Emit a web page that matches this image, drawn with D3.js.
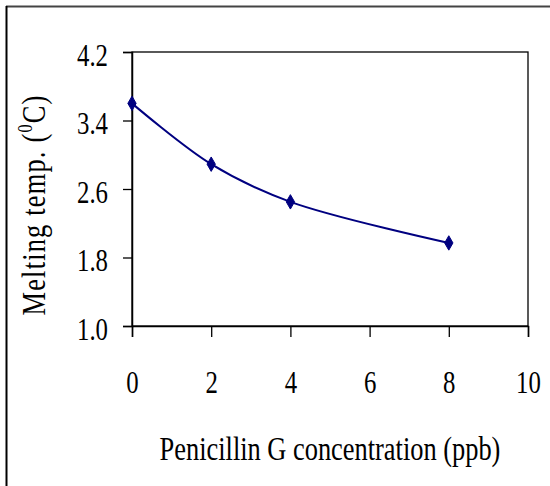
<!DOCTYPE html>
<html>
<head>
<meta charset="utf-8">
<script src="https://cdn.jsdelivr.net/npm/d3@7"></script>
<style>
  body { margin: 0; background: #fff; }
  text { font-family: "Liberation Serif", "Times New Roman", serif; fill: #000; }
</style>
</head>
<body>
<svg id="chart"></svg>
<script>
// data
const concentration = [0, 2, 4, 8];
const meltingTemp = [3.60, 2.89, 2.45, 1.97];
const xTicks = [0, 2, 4, 6, 8, 10];
const yTicks = [1.0, 1.8, 2.6, 3.4, 4.2];

let width = 550;
let height = 486;
let margin = { top: 52, right: 22, bottom: 160, left: 132 };
let squeeze = 0.8; // text in the original is horizontally condensed

let svg = d3.select('#chart')
    .attr('width', width)
    .attr('height', height);

// outer frame (runs off the bottom/right of the picture)
svg.append('line')
    .attr('x1', 6).attr('x2', width).attr('y1', 6.5).attr('y2', 6.5)
    .style('stroke', '#444').style('stroke-width', '2px');
svg.append('line')
    .attr('x1', 6.5).attr('x2', 6.5).attr('y1', 6).attr('y2', height)
    .style('stroke', '#000').style('stroke-width', '2px');

let x = d3.scaleLinear()
    .domain([0, 10])
    .range([margin.left, width - margin.right]);

let y = d3.scaleLinear()
    .domain([1.0, 4.2])
    .range([height - margin.bottom, margin.top]);

// plot area border
svg.append('rect')
    .attr('x', x(0)).attr('y', y(4.2))
    .attr('width', x(10) - x(0)).attr('height', y(1.0) - y(4.2))
    .style('fill', 'none').style('stroke', '#000').style('stroke-width', '1.3px');

let xAxis = svg.append('g')
    .attr('transform', `translate(0,${y(1.0)})`)
    .call(d3.axisBottom(x).tickValues(xTicks).tickSize(11).tickFormat(d3.format('d')));

let yAxis = svg.append('g')
    .attr('transform', `translate(${x(0)},0)`)
    .call(d3.axisLeft(y).tickValues(yTicks).tickSize(9).tickFormat(d3.format('.1f')));

[xAxis, yAxis].forEach(g => {
  g.select('.domain').style('stroke', '#000').style('stroke-width', '1.5px');
  g.selectAll('.tick line').style('stroke', '#000').style('stroke-width', '1.3px');
  g.selectAll('.tick text')
      .style('font-family', '"Liberation Serif", serif')
      .style('font-size', '31px')
      .attr('fill', '#000')
      .attr('transform', `scale(${squeeze},1)`);
});

xAxis.selectAll('.tick text').attr('y', 67).attr('dy', 0);
yAxis.selectAll('.tick text').attr('x', -24 / squeeze).attr('dy', 13);

// smoothed line
let points = concentration.map((c, i) => [c, meltingTemp[i]]);

let line = d3.line()
    .x(d => x(d[0]))
    .y(d => y(d[1]))
    .curve(d3.curveCatmullRom.alpha(0.5));

svg.append('path')
    .datum(points)
    .attr('d', line)
    .style('fill', 'none')
    .style('stroke', '#000080')
    .style('stroke-width', '2px');

let diamond = d3.symbol().type(d3.symbolDiamond).size(60);

svg.selectAll('.marker')
    .data(points)
  .enter().append('path')
    .attr('class', 'marker')
    .attr('d', diamond)
    .attr('transform', d => `translate(${x(d[0])},${y(d[1])})`)
    .style('fill', '#000080')
    .style('stroke', '#000080')
    .style('stroke-width', '1px');

// axis titles
svg.append('text')
    .attr('transform', `translate(330,460) scale(${squeeze},1)`)
    .attr('text-anchor', 'middle')
    .style('font-size', '33px')
    .text('Penicillin G concentration (ppb)');

let yTitle = svg.append('text')
    .attr('transform', `translate(45,205) rotate(-90) scale(${squeeze},1)`)
    .attr('text-anchor', 'middle')
    .style('font-size', '33px')
    .style('letter-spacing', '1.5px');

yTitle.append('tspan').text('Melting temp. (');
yTitle.append('tspan').attr('dy', -13).style('font-size', '20px').text('0');
yTitle.append('tspan').attr('dy', 13).text('C)');
</script>
</body>
</html>
